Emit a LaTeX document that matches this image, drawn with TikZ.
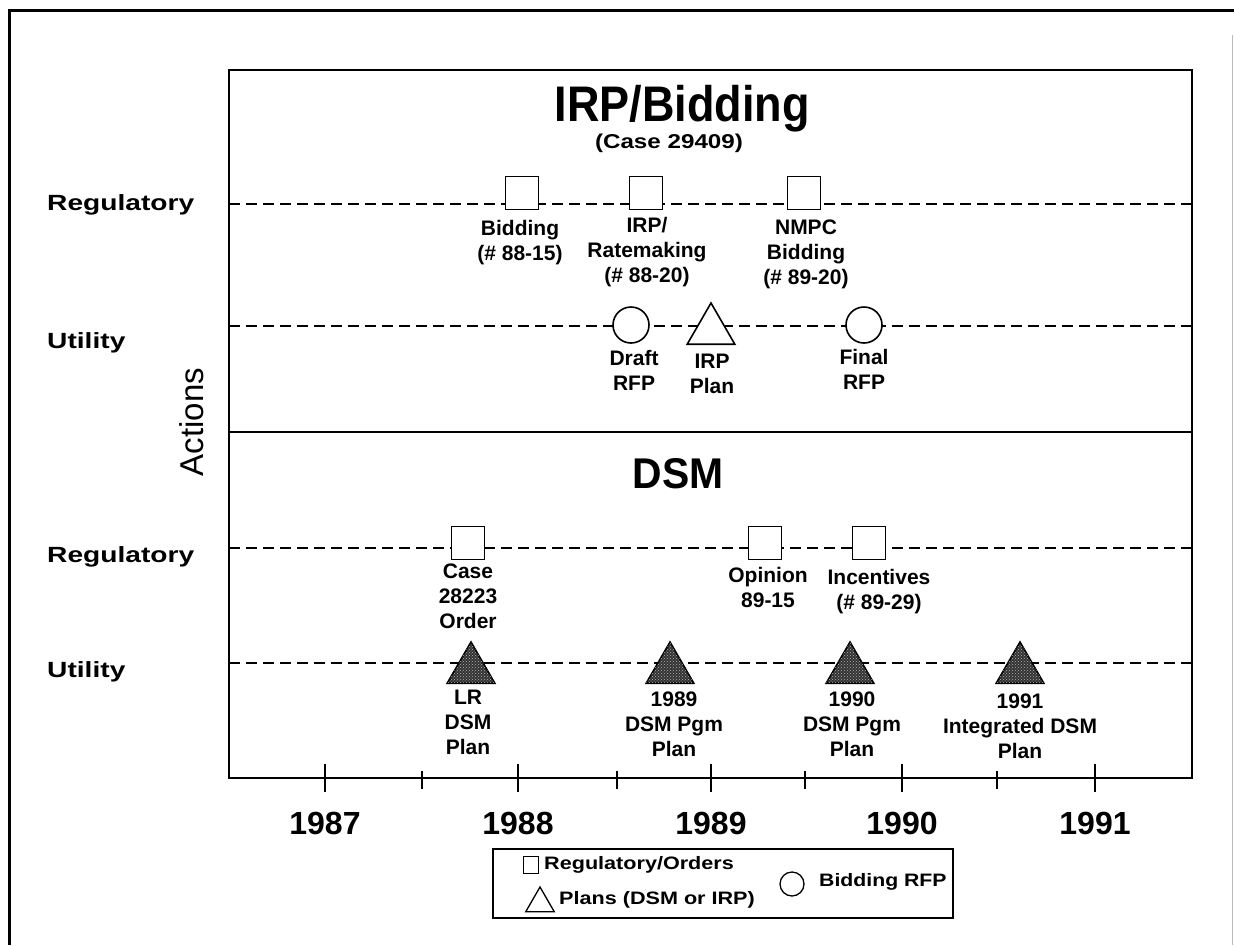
\documentclass[tikz,border=0pt]{standalone}
\usepackage{fontspec}
\setmainfont{Liberation Sans}
\usetikzlibrary{shapes.geometric,patterns}

% horizontally stretched / condensed lettering
\newcommand{\widetext}[2][1.25]{\scalebox{#1}[1]{#2}}

\tikzset{
  frame/.style={line width=2pt},
  track/.style={line width=1.8pt, dash pattern=on 11pt off 6pt},
  regbox/.style={draw, fill=white, line width=1.6pt, minimum width=33pt,
    minimum height=33pt, inner sep=0pt},
  rfp/.style={draw, circle, fill=white, line width=1.6pt, minimum size=36pt, inner sep=0pt},
  plan/.style={draw, regular polygon, regular polygon sides=3, fill=white,
    line width=1.6pt, minimum size=55pt, inner sep=0pt},
  dsmplan/.style={plan, fill=black!80,
    postaction={pattern=crosshatch dots, pattern color=white!70!black}},
  lbl/.style={font=\fontsize{21}{25}\selectfont\bfseries, align=center,
    inner sep=0pt, anchor=north},
  rowlbl/.style={font=\fontsize{22}{26}\selectfont\bfseries, inner sep=0pt, anchor=base west},
  yearlbl/.style={font=\fontsize{32}{36}\selectfont\bfseries, inner sep=0pt, anchor=base},
  yeartick/.style={line width=1.5pt},
  halftick/.style={line width=1.2pt},
  legtxt/.style={font=\fontsize{18}{22}\selectfont\bfseries, inner sep=0pt, anchor=base west},
}

\begin{document}
\begin{tikzpicture}[x=1pt, y=-1pt]
\useasboundingbox (0,0) rectangle (1234,945);

% page frame
\draw[line width=3pt] (9,945) -- (9,10) -- (1234,10);
\draw[gray!55, line width=1pt] (1232,35) -- (1232,945);

% plot area and section divider
\draw[frame] (229,70) rectangle (1192,778);
\draw[frame] (229,432) -- (1192,432);

% titles
\node[font=\fontsize{50}{56}\selectfont\bfseries, inner sep=0pt, anchor=base]
  (irptitle) at (682,121) {\widetext[0.9]{IRP/Bidding}};
\node[font=\fontsize{20}{24}\selectfont\bfseries, inner sep=0pt, anchor=base]
  (irpcase) at (669,148) {\widetext[1.21]{(Case 29409)}};
\node[font=\fontsize{43}{48}\selectfont\bfseries, inner sep=0pt, anchor=base]
  (dsmtitle) at (678,488) {\widetext[0.95]{DSM}};

% axis title
\node[font=\fontsize{33}{38}\selectfont, inner sep=0pt, rotate=90] (actions) at (192,422) {Actions};

% row labels
\node[rowlbl] (rowIR) at (47,210) {\widetext[1.28]{Regulatory}};
\node[rowlbl] (rowIU) at (47,348) {\widetext[1.28]{Utility}};
\node[rowlbl] (rowDR) at (47,562) {\widetext[1.28]{Regulatory}};
\node[rowlbl] (rowDU) at (47,677) {\widetext[1.28]{Utility}};

% dashed tracks
\coordinate (irL) at (229,204);  \coordinate (irR) at (1192,204);
\coordinate (iuL) at (229,326);  \coordinate (iuR) at (1192,326);
\coordinate (drL) at (229,548);  \coordinate (drR) at (1192,548);
\coordinate (duL) at (229,663);  \coordinate (duR) at (1192,663);
\draw[track] (irL) -- (irR);
\draw[track] (iuL) -- (iuR);
\draw[track] (drL) -- (drR);
\draw[track] (duL) -- (duR);

% IRP / bidding events
\node[regbox] (bid)  at (522,193) {};
\node[regbox] (rate) at (646,193) {};
\node[regbox] (nmpc) at (804,193) {};
\node[rfp]  (draft) at (631,325) {};
\node[plan] (irpp)  at (711,330.5) {};
\node[rfp]  (final) at (864,325) {};

\node[lbl] (bidL)  at (520,220) {Bidding\\(\# 88-15)};
\node[lbl] (rateL) at (647,217) {IRP/\\Ratemaking\\(\# 88-20)};
\node[lbl] (nmpcL) at (806,220) {NMPC\\Bidding\\(\# 89-20)};
\node[lbl] (draftL) at (634,350) {Draft\\RFP};
\node[lbl] (irppL)  at (712,354) {IRP\\Plan};
\node[lbl] (finalL) at (864,349) {Final\\RFP};

% DSM events
\node[regbox] (case) at (468,543) {};
\node[regbox] (opin) at (765,543) {};
\node[regbox] (ince) at (869,543) {};
\node[dsmplan] (lr)  at (471,669.5) {};
\node[dsmplan] (p89) at (670,669.5) {};
\node[dsmplan] (p90) at (850,669.5) {};
\node[dsmplan] (p91) at (1020,669.5) {};

\node[lbl] (caseL) at (468,564) {Case\\28223\\Order};
\node[lbl] (opinL) at (768,567) {Opinion\\89-15};
\node[lbl] (inceL) at (879,569) {Incentives\\(\# 89-29)};
\node[lbl] (lrL)  at (468,690) {LR\\DSM\\Plan};
\node[lbl] (p89L) at (674,692) {1989\\DSM Pgm\\Plan};
\node[lbl] (p90L) at (852,692) {1990\\DSM Pgm\\Plan};
\node[lbl] (p91L) at (1020,694) {1991\\Integrated DSM\\Plan};

% time axis ticks
\foreach \x in {325,518,711,902,1095} \draw[yeartick] (\x,764) -- (\x,792);
\foreach \x in {422,617,805,997} \draw[halftick] (\x,771) -- (\x,789);

% year labels
\node[yearlbl] (y87) at (325,834) {1987};
\node[yearlbl] (y88) at (518,834) {1988};
\node[yearlbl] (y89) at (711,834) {1989};
\node[yearlbl] (y90) at (902,834) {1990};
\node[yearlbl] (y91) at (1095,834) {1991};

% legend
\draw[line width=1.5pt] (493,849) rectangle (953,918);
\node[draw, line width=1.3pt, minimum width=15pt, minimum height=17pt, inner sep=0pt]
  (legbox) at (531,865) {};
\node[draw, regular polygon, regular polygon sides=3, line width=1.3pt,
  minimum size=33pt, inner sep=0pt] (legtri) at (540,903.5) {};
\node[draw, circle, line width=1.3pt, minimum size=24pt, inner sep=0pt]
  (legcirc) at (792,884) {};
\node[legtxt] (legboxL)  at (544,869.5) {\widetext[1.2]{Regulatory/Orders}};
\node[legtxt] (legtriL)  at (559,904.5) {\widetext[1.2]{Plans (DSM or IRP)}};
\node[legtxt] (legcircL) at (819,886.5) {\widetext[1.18]{Bidding RFP}};
\end{tikzpicture}
\end{document}
